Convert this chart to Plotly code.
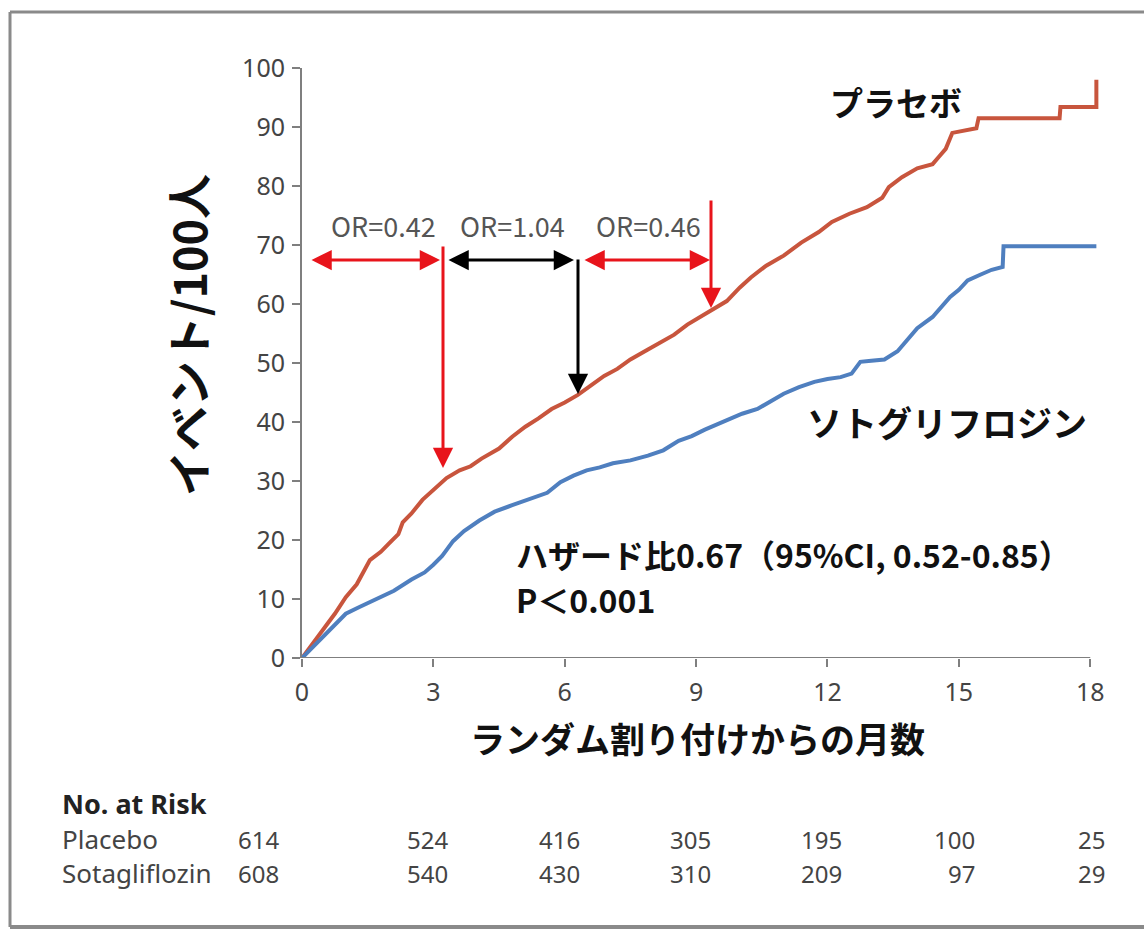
import plotly.graph_objects as go

# Cumulative events per 100 patients by month since randomization
placebo_months = [0, 0.25, 0.5, 0.75, 1.0, 1.25, 1.55, 1.8, 2.0, 2.2, 2.3, 2.5, 2.75, 3.0,
                  3.3, 3.6, 3.85, 4.1, 4.5, 4.8, 5.1, 5.4, 5.7, 6.0, 6.3, 6.6, 6.9, 7.2,
                  7.5, 7.9, 8.2, 8.5, 8.8, 9.1, 9.4, 9.7, 10.0, 10.25, 10.6, 11.0, 11.4,
                  11.8, 12.1, 12.5, 12.9, 13.25, 13.4, 13.7, 14.05, 14.4, 14.55, 14.7,
                  14.85, 15.15, 15.4, 15.45, 17.3, 17.32, 18.14, 18.14]
placebo_events = [0, 2.5, 5, 7.5, 10.3, 12.5, 16.6, 18, 19.5, 21, 23, 24.5, 26.8, 28.5,
                  30.5, 31.8, 32.5, 33.8, 35.5, 37.5, 39.2, 40.6, 42.2, 43.3, 44.6, 46.2,
                  47.8, 49.0, 50.6, 52.3, 53.5, 54.8, 56.5, 57.8, 59.2, 60.5, 62.8, 64.5,
                  66.5, 68.2, 70.4, 72.2, 73.9, 75.3, 76.4, 78.0, 79.8, 81.5, 83, 83.7,
                  85, 86.3, 89, 89.5, 89.8, 91.5, 91.5, 93.4, 93.4, 98]

sota_months = [0, 0.25, 0.5, 0.75, 1.0, 1.3, 1.5, 1.8, 2.1, 2.5, 2.8, 3.0, 3.2, 3.45, 3.7,
               4.05, 4.4, 4.8, 5.2, 5.6, 5.9, 6.2, 6.5, 6.8, 7.1, 7.5, 7.9, 8.25, 8.6,
               8.9, 9.2, 9.5, 9.8, 10.05, 10.4, 10.7, 11.0, 11.35, 11.7, 12.0, 12.3,
               12.55, 12.75, 13.0, 13.3, 13.6, 13.8, 14.05, 14.4, 14.6, 14.8, 15.0, 15.2,
               15.5, 15.75, 16.0, 16.02, 18.14]
sota_events = [0, 1.9, 3.8, 5.5, 7.5, 8.6, 9.3, 10.3, 11.4, 13.3, 14.5, 15.8, 17.3, 19.8,
               21.5, 23.3, 24.8, 25.9, 27, 28, 29.8, 30.9, 31.8, 32.3, 33.0, 33.5, 34.3,
               35.2, 36.8, 37.6, 38.7, 39.6, 40.6, 41.4, 42.2, 43.6, 44.8, 45.9, 46.8,
               47.3, 47.6, 48.2, 50.2, 50.4, 50.6, 52.0, 53.8, 55.9, 57.8, 59.5, 61.2,
               62.4, 64, 65, 65.8, 66.3, 69.8, 69.8]

x_ticks = [0, 3, 6, 9, 12, 15, 18]
y_ticks = [0, 10, 20, 30, 40, 50, 60, 70, 80, 90, 100]

risk_groups = ["Placebo", "Sotagliflozin"]
risk_placebo = [614, 524, 416, 305, 195, 100, 25]
risk_sota = [608, 540, 430, 310, 209, 97, 29]

# Interval odds ratios shown above the curves
or_labels = ["OR=0.42", "OR=1.04", "OR=0.46"]

W, H = 1144, 934
L, R, T, B = 302, 45, 68, 276
X_MAX = 18.2
PW, PH = W - L - R, H - T - B

PLACEBO_COLOR = "#C8553D"
SOTA_COLOR = "#4F7FBF"
AXIS_COLOR = "#7f7f7f"
ARROW_RED = "#E8141B"
JP = "Noto Sans CJK JP"
LATIN = "Noto Sans"


def px_x(px):
    return (px - L) / PW


def px_y(py):
    return (H - B - py) / PH


def dx(px):
    return (px - L) / PW * X_MAX


def dy(py):
    return (H - B - py) / PH * 100


fig = go.Figure()
fig.add_trace(go.Scatter(x=placebo_months, y=placebo_events, mode="lines",
                         line=dict(color=PLACEBO_COLOR, width=4),
                         showlegend=False, hoverinfo="skip"))
fig.add_trace(go.Scatter(x=sota_months, y=sota_events, mode="lines",
                         line=dict(color=SOTA_COLOR, width=4),
                         showlegend=False, hoverinfo="skip"))

shapes = [
    # x-axis baseline, ending at the last tick
    dict(type="line", xref="x", yref="y", x0=0, x1=18, y0=0, y1=0,
         line=dict(color=AXIS_COLOR, width=2)),
    # outer frame
    dict(type="line", xref="paper", yref="paper", x0=px_x(10), x1=px_x(1160),
         y0=px_y(12), y1=px_y(12), line=dict(color="#8a8a8a", width=3)),
    dict(type="line", xref="paper", yref="paper", x0=px_x(10), x1=px_x(1160),
         y0=px_y(927), y1=px_y(927), line=dict(color="#8a8a8a", width=4)),
    dict(type="line", xref="paper", yref="paper", x0=px_x(10), x1=px_x(10),
         y0=px_y(12), y1=px_y(927), line=dict(color="#8a8a8a", width=3)),
]

ann = []


def arrow(x_tip, y_tip, x_tail, y_tail, color, both=False):
    d = dict(x=x_tip, y=y_tip, ax=x_tail, ay=y_tail, xref="x", yref="y",
             axref="x", ayref="y", text="", showarrow=True, arrowhead=2,
             arrowsize=1.35, arrowwidth=3, arrowcolor=color)
    if both:
        d.update(arrowside="end+start", startarrowhead=2, startarrowsize=1.35)
    ann.append(d)


def label(px, py, text, size, color="#111111", weight="normal", family=JP,
          xanchor="center", angle=0):
    ann.append(dict(x=px_x(px), y=px_y(py), xref="paper", yref="paper", text=text,
                    xanchor=xanchor, yanchor="middle", textangle=angle,
                    showarrow=False,
                    font=dict(family=family, size=size, color=color, weight=weight)))


y_bar = dy(260)
arrow(dx(440), y_bar, dx(310), y_bar, ARROW_RED, both=True)
arrow(dx(574), y_bar, dx(447), y_bar, "black", both=True)
arrow(dx(710), y_bar, dx(583), y_bar, ARROW_RED, both=True)
arrow(dx(443), dy(468), dx(443), dy(245), ARROW_RED)
arrow(dx(578), dy(394), dx(578), dy(258), "black")
arrow(dx(711), dy(308), dx(711), dy(199), ARROW_RED)

for lab, cx in zip(or_labels, [383, 512, 648]):
    label(cx, 225, lab, 27, color="#555555")

# Series labels and statistics
label(896, 102, "プラセボ", 33, weight="bold")
label(947, 421, "ソトグリフロジン", 35, weight="bold")
label(514, 554, "ハザード比0.67（95%CI, 0.52-0.85）", 32, weight="bold", xanchor="left")
label(514, 599, "P＜0.001", 32, weight="bold", xanchor="left")

# Axis titles
label(187, 335, "イベント/100人", 45, weight="bold", angle=-90)
label(697, 737, "ランダム割り付けからの月数", 35, weight="bold")

# Number-at-risk table
label(60, 803, "No. at Risk", 27, color="#222222", weight="bold", family=LATIN,
      xanchor="left")
for name, row_y in zip(risk_groups, [839, 873]):
    label(60, row_y, name, 26, color="#444444", family=LATIN, xanchor="left")
col_shift = [-21, 17, 17, 17, 17, 18, 17]
for counts, row_y in zip([risk_placebo, risk_sota], [839, 873]):
    for m, n, sh in zip(x_ticks, counts, col_shift):
        ann.append(dict(x=m, y=px_y(row_y), xref="x", yref="paper", xanchor="right",
                        yanchor="middle", xshift=sh, text=str(n), showarrow=False,
                        font=dict(family=LATIN, size=24, color="#444444")))

fig.update_layout(
    width=W, height=H,
    margin=dict(l=L, r=R, t=T, b=B, pad=0),
    paper_bgcolor="white", plot_bgcolor="white",
    shapes=shapes, annotations=ann,
    xaxis=dict(range=[0, X_MAX], tickvals=x_ticks, ticktext=[str(v) for v in x_ticks],
               showgrid=False, zeroline=False, showline=False,
               ticks="outside", ticklen=8, tickwidth=2, tickcolor=AXIS_COLOR,
               ticklabelstandoff=4,
               tickfont=dict(family=LATIN, size=25, color="#444444")),
    yaxis=dict(range=[0, 100], tickvals=y_ticks, showgrid=False, zeroline=False,
               showline=True, linecolor=AXIS_COLOR, linewidth=2,
               ticks="outside", ticklen=8, tickwidth=2, tickcolor=AXIS_COLOR,
               ticklabelstandoff=2,
               tickfont=dict(family=LATIN, size=25, color="#444444")),
)

fig.write_html("out.html")
